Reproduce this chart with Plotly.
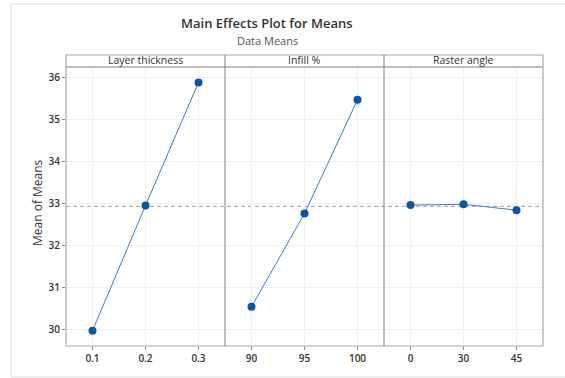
import plotly.graph_objects as go
from plotly.subplots import make_subplots

# Factor levels and the mean response at each level
layer_levels = ["0.1", "0.2", "0.3"]
layer_means = [29.96, 32.94, 35.87]

infill_levels = ["90", "95", "100"]
infill_means = [30.53, 32.75, 35.46]

raster_levels = ["0", "30", "45"]
raster_means = [32.95, 32.97, 32.83]

factor_names = ["Layer thickness", "Infill %", "Raster angle"]
y_ticks = [30, 31, 32, 33, 34, 35, 36]

panels = [(layer_levels, layer_means), (infill_levels, infill_means), (raster_levels, raster_means)]
all_means = layer_means + infill_means + raster_means
grand_mean = sum(all_means) / len(all_means)

W, H = 565, 378
ML, MR, MT, MB = 66, 22, 67, 32
PW, PH = W - ML - MR, H - MT - MB


def px_x(px):
    return (px - ML) / PW


def px_y(py):
    return (H - MB - py) / PH


FONT = "Open Sans"
TXT = "#333333"

fig = make_subplots(rows=1, cols=3, shared_yaxes=True, horizontal_spacing=0)

for i, (levels, means) in enumerate(panels, start=1):
    fig.add_trace(
        go.Scatter(
            x=levels,
            y=means,
            mode="lines+markers",
            line=dict(color="#3F7DC4", width=1),
            marker=dict(color="#0B55A8", size=8),
            showlegend=False,
        ),
        row=1,
        col=i,
    )
    fig.update_xaxes(
        type="category",
        range=[-0.5, 2.5],
        showgrid=True,
        gridcolor="#F0F0F0",
        gridwidth=1,
        ticks="outside",
        ticklen=3,
        tickcolor="#888888",
        tickfont=dict(family=FONT, size=10, color=TXT, weight=600),
        showline=False,
        zeroline=False,
        row=1,
        col=i,
    )

fig.update_yaxes(
    range=[29.596, 36.238],
    tickvals=y_ticks,
    showgrid=True,
    gridcolor="#F0F0F0",
    gridwidth=1,
    zeroline=False,
    showline=False,
    ticks="",
    tickfont=dict(family=FONT, size=10, color=TXT, weight=600),
)
fig.update_yaxes(ticks="outside", ticklen=3, tickcolor="#888888", row=1, col=1)

shapes = []
# overall mean reference line
shapes.append(dict(type="line", xref="paper", yref="y", x0=0, x1=1, y0=grand_mean, y1=grand_mean,
                   line=dict(color="#B0B0B0", width=1.2, dash="4px,3px"), layer="below"))
# panel frame
shapes.append(dict(type="rect", xref="paper", yref="paper", x0=0, x1=1, y0=0, y1=1 + 12 / PH,
                   line=dict(color="#A8A8A8", width=1.2)))
# strip bottom edge
shapes.append(dict(type="line", xref="paper", yref="paper", x0=0, x1=1, y0=1, y1=1,
                   line=dict(color="#808080", width=1)))
# panel dividers
for k in (1, 2):
    shapes.append(dict(type="line", xref="paper", yref="paper", x0=k / 3, x1=k / 3, y0=0, y1=1 + 12 / PH,
                       line=dict(color="#808080", width=1)))
# outer frame
shapes.append(dict(type="rect", xref="paper", yref="paper", x0=px_x(11), x1=px_x(600), y0=px_y(377), y1=px_y(4),
                   line=dict(color="#DDDDDD", width=1)))

annotations = [
    dict(text="Main Effects Plot for Means", x=px_x(267), y=px_y(23), xref="paper", yref="paper",
         showarrow=False, xanchor="center", yanchor="middle",
         font=dict(family=FONT, size=13, color=TXT, weight=600)),
    dict(text="Data Means", x=px_x(267), y=px_y(40), xref="paper", yref="paper",
         showarrow=False, xanchor="center", yanchor="middle",
         font=dict(family=FONT, size=11, color="#555555")),
    dict(text="Mean of Means", x=px_x(37), y=px_y(203), xref="paper", yref="paper",
         showarrow=False, xanchor="center", yanchor="middle", textangle=-90,
         font=dict(family=FONT, size=12, color=TXT)),
]
for k, name in enumerate(factor_names):
    annotations.append(dict(text=name, x=(k + 0.5) / 3, y=px_y(60.5), xref="paper", yref="paper",
                            showarrow=False, xanchor="center", yanchor="middle",
                            font=dict(family=FONT, size=10.5, color=TXT)))

fig.update_layout(
    width=W,
    height=H,
    margin=dict(l=ML, r=MR, t=MT, b=MB),
    paper_bgcolor="white",
    plot_bgcolor="white",
    shapes=shapes,
    annotations=annotations,
)

fig.write_html("out.html")
